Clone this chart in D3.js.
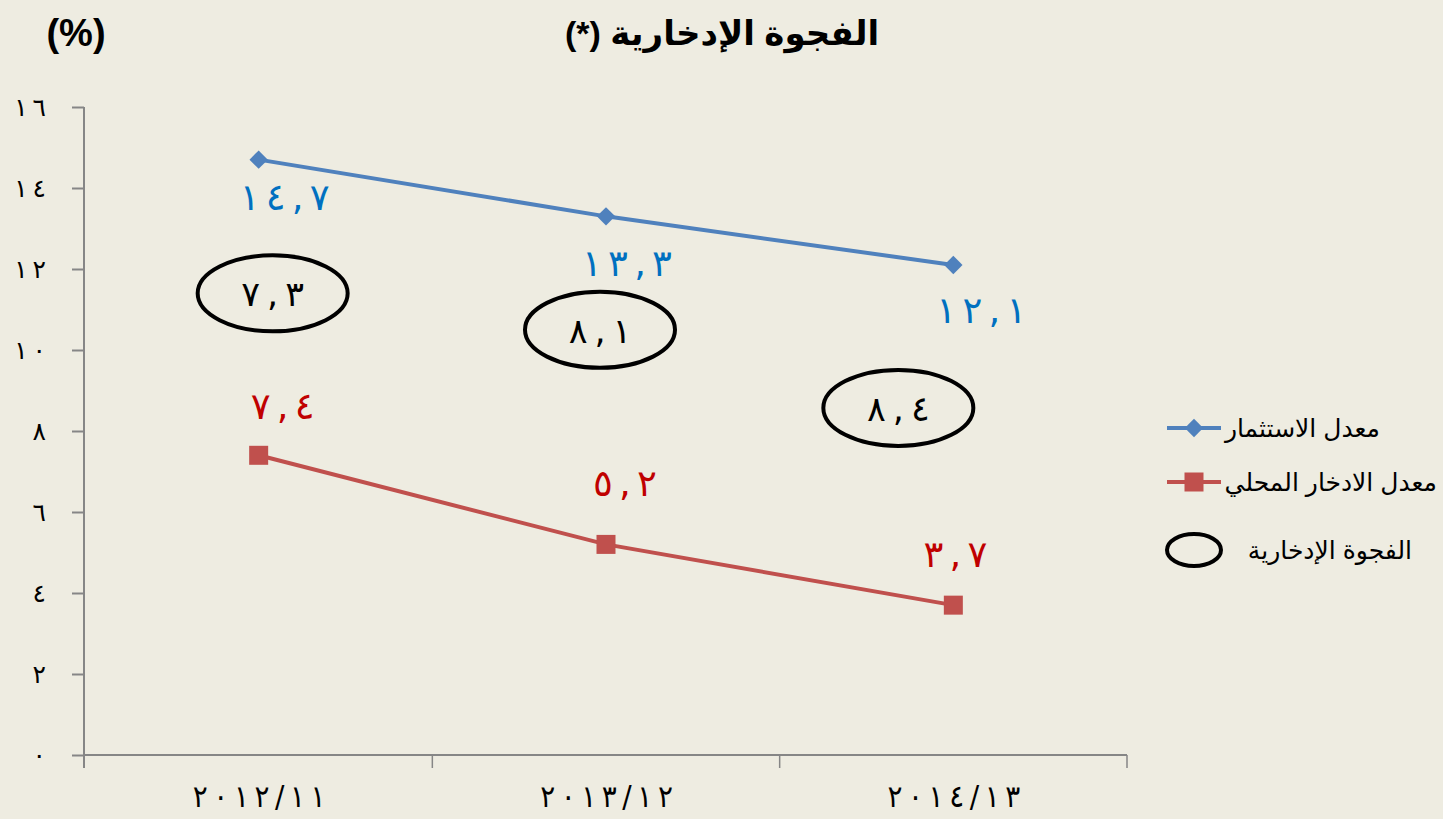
<!DOCTYPE html>
<html>
<head>
<meta charset="utf-8">
<script src="https://cdn.jsdelivr.net/npm/d3@7"></script>
<style>
  html, body { margin: 0; padding: 0; background: #EEECE1; }
  svg { display: block; }
  .axis text { font-family: "DejaVu Sans", sans-serif; fill: #000; }
  .num { unicode-bidi: bidi-override; direction: ltr; }
</style>
</head>
<body>
<svg id="chart" width="1443" height="819"></svg>
<script>
  'use strict';

  var categories = ['2012/11', '2013/12', '2014/13'];
  var investment = [14.7, 13.3, 12.1];
  var saving = [7.4, 5.2, 3.7];
  var gap = [7.3, 8.1, 8.4];
  var yTicks = [0, 2, 4, 6, 8, 10, 12, 14, 16];

  var title = 'الفجوة الإدخارية (*)';
  var unitLabel = '(%)';
  var seriesNames = ['معدل الاستثمار', 'معدل الادخار المحلي', 'الفجوة الإدخارية'];

  // where the gap ellipses sit: x shift from category, y in data units
  var gapPlace = [[14, 11.4], [-6, 10.5], [-55, 8.57]];

  var digits = '٠١٢٣٤٥٦٧٨٩';
  function arabic(v) {
    return String(v).replace(/[0-9]/g, function (c) { return digits[+c]; }).replace('.', ',');
  }
  // spaced out digits, kept in visual left-to-right order by .num
  function spaced(sep) {
    return function (v) { return arabic(v).split('').join(sep); };
  }

  var svg = d3.select('#chart');
  var blue = '#4F81BD', red = '#C0504D';

  var x = d3.scalePoint().domain(categories).range([85, 1127]).padding(0.5);
  var xBand = d3.scaleBand().domain(categories).range([85, 1127]);
  var y = d3.scaleLinear().domain([0, 16]).range([755, 107]);

  // title
  svg.append('text')
      .attr('x', 722).attr('y', 45)
      .attr('text-anchor', 'middle')
      .style('font-family', 'Arial, "Liberation Sans", "DejaVu Sans", sans-serif')
      .style('font-weight', 'bold').style('font-size', '34px')
      .attr('direction', 'rtl')
      .text(title);

  svg.append('text')
      .attr('x', 76).attr('y', 46)
      .attr('text-anchor', 'middle')
      .style('font-family', 'Arial, "Liberation Sans", sans-serif')
      .style('font-weight', 'bold').style('font-size', '38px')
      .text(unitLabel);

  // y axis
  var yAxis = svg.append('g')
      .attr('class', 'axis')
      .attr('transform', 'translate(84,0)')
      .call(d3.axisLeft(y).tickValues(yTicks).tickSize(12).tickPadding(26)
          .tickFormat(spaced('\u2009')));
  yAxis.select('.domain').remove();
  yAxis.selectAll('.tick line').attr('stroke', '#868686').attr('stroke-width', 2);
  yAxis.selectAll('.tick text').classed('num', true).style('font-size', '25px');
  svg.append('line')
      .attr('x1', 84).attr('x2', 84)
      .attr('y1', y(16)).attr('y2', y(0) + 13)
      .attr('stroke', '#868686').attr('stroke-width', 2);

  // x axis
  var xAxis = svg.append('g')
      .attr('class', 'axis')
      .attr('transform', 'translate(0,' + y(0) + ')')
      .call(d3.axisBottom(x).tickSize(0).tickPadding(30).tickFormat(spaced('\u2009')));
  xAxis.select('.domain').remove();
  xAxis.selectAll('.tick text').classed('num', true).style('font-size', '31px')
      .style('font-family', '"DejaVu Sans Condensed", "DejaVu Sans", sans-serif');
  svg.append('line')
      .attr('x1', 84).attr('x2', 1127)
      .attr('y1', y(0)).attr('y2', y(0))
      .attr('stroke', '#868686').attr('stroke-width', 2);
  svg.selectAll('.xtick')
      .data(categories)
      .enter().append('line')
      .attr('x1', function (d) { return xBand(d) + xBand.step(); })
      .attr('x2', function (d) { return xBand(d) + xBand.step(); })
      .attr('y1', y(0)).attr('y2', y(0) + 13)
      .attr('stroke', '#868686').attr('stroke-width', 1.5);

  var line = d3.line()
      .x(function (d, i) { return x(categories[i]); })
      .y(function (d) { return y(d); });

  // investment series
  svg.append('path')
      .datum(investment)
      .attr('d', line)
      .attr('fill', 'none').attr('stroke', blue).attr('stroke-width', 4);
  svg.selectAll('.diamond')
      .data(investment)
      .enter().append('rect')
      .attr('width', 13).attr('height', 13)
      .attr('x', -6.5).attr('y', -6.5)
      .attr('fill', blue)
      .attr('transform', function (d, i) {
        return 'translate(' + x(categories[i]) + ',' + y(d) + ') rotate(45)';
      });

  // saving series
  svg.append('path')
      .datum(saving)
      .attr('d', line)
      .attr('fill', 'none').attr('stroke', red).attr('stroke-width', 4);
  svg.selectAll('.square')
      .data(saving)
      .enter().append('rect')
      .attr('width', 19).attr('height', 19)
      .attr('x', function (d, i) { return x(categories[i]) - 9.5; })
      .attr('y', function (d) { return y(d) - 9.5; })
      .attr('fill', red);

  var labelFont = '"DejaVu Sans", sans-serif';

  svg.selectAll('.lblInv')
      .data(investment)
      .enter().append('text')
      .attr('class', 'num')
      .attr('x', function (d, i) { return x(categories[i]) + [26, 21, 28][i]; })
      .attr('y', function (d, i) { return y(d) + [50, 60, 58][i]; })
      .attr('text-anchor', 'middle')
      .style('font-family', labelFont).style('font-size', '37px')
      .attr('fill', '#0070C0')
      .text(spaced('\u2006'));

  svg.selectAll('.lblSav')
      .data(saving)
      .enter().append('text')
      .attr('class', 'num')
      .attr('x', function (d, i) { return x(categories[i]) + [24, 19, 2][i]; })
      .attr('y', function (d, i) { return y(d) - [36, 48, 38][i]; })
      .attr('text-anchor', 'middle')
      .style('font-family', labelFont).style('font-size', '37px')
      .attr('fill', '#C00000')
      .text(spaced('\u2006'));

  // gap ellipses
  var gaps = svg.selectAll('.gap')
      .data(gap)
      .enter().append('g')
      .attr('transform', function (d, i) {
        return 'translate(' + (x(categories[i]) + gapPlace[i][0]) + ',' + y(gapPlace[i][1]) + ')';
      });
  gaps.append('ellipse')
      .attr('rx', 75).attr('ry', 38)
      .attr('fill', 'none').attr('stroke', '#000').attr('stroke-width', 4);
  gaps.append('text')
      .attr('class', 'num')
      .attr('y', 13).attr('x', 0)
      .attr('text-anchor', 'middle')
      .style('font-family', labelFont).style('font-size', '35px')
      .text(spaced('\u2009'));

  // legend
  var legend = svg.append('g').attr('transform', 'translate(1167,0)');
  var legY = [428, 482, 550];
  legend.append('line')
      .attr('x1', 0).attr('x2', 54).attr('y1', legY[0]).attr('y2', legY[0])
      .attr('stroke', blue).attr('stroke-width', 4);
  legend.append('rect')
      .attr('width', 13).attr('height', 13).attr('x', -6.5).attr('y', -6.5)
      .attr('fill', blue)
      .attr('transform', 'translate(27,' + legY[0] + ') rotate(45)');
  legend.append('line')
      .attr('x1', 0).attr('x2', 54).attr('y1', legY[1]).attr('y2', legY[1])
      .attr('stroke', red).attr('stroke-width', 4);
  legend.append('rect')
      .attr('width', 19).attr('height', 19).attr('x', 17.5).attr('y', legY[1] - 9.5)
      .attr('fill', red);
  legend.append('ellipse')
      .attr('cx', 27).attr('cy', legY[2]).attr('rx', 27).attr('ry', 16)
      .attr('fill', 'none').attr('stroke', '#000').attr('stroke-width', 4);

  legend.selectAll('.legText')
      .data(seriesNames)
      .enter().append('text')
      .attr('x', function (d, i) { return [213, 270, 245][i]; })
      .attr('y', function (d, i) { return legY[i] + 9; })
      .attr('text-anchor', 'end')
      .style('font-family', 'Arial, "Liberation Sans", "DejaVu Sans", sans-serif')
      .style('font-size', '25px')
      .text(function (d) { return d; });
</script>
</body>
</html>
